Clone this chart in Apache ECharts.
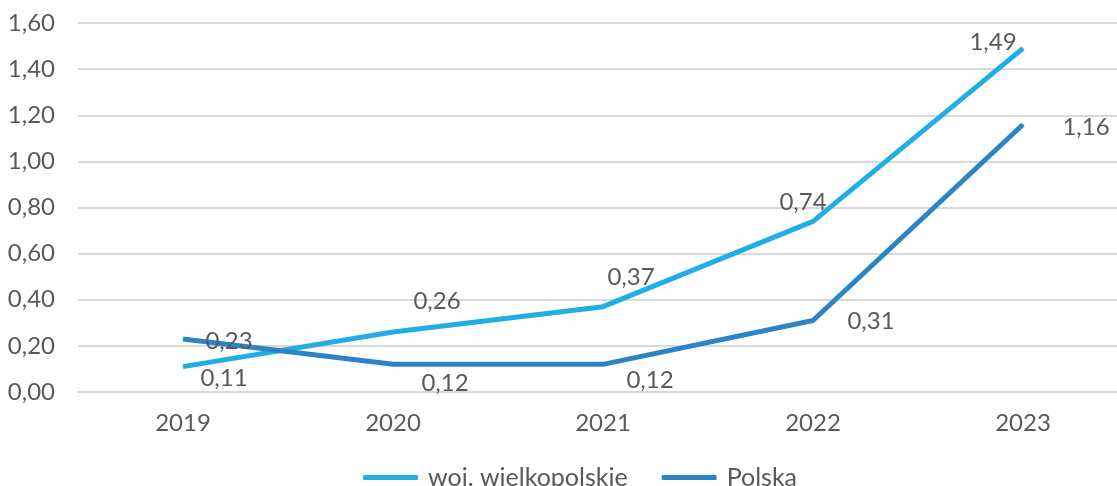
<!DOCTYPE html>
<html>
<head>
<meta charset="utf-8">
<script src="https://cdn.jsdelivr.net/npm/echarts@6/dist/echarts.min.js"></script>
<style>
  html, body { margin: 0; padding: 0; background: #fff; }
  #main { width: 1117px; height: 486px; }
</style>
</head>
<body>
<div id="main"></div>
<script>
// dane
var years = ['2019', '2020', '2021', '2022', '2023'];
var wojValues = [0.11, 0.26, 0.37, 0.74, 1.49];
var polskaValues = [0.23, 0.12, 0.12, 0.31, 1.16];
var seriesNames = ['woj. wielkopolskie', 'Polska'];

// przesunięcia etykiet (px)
var wojOffsets = [[41, 12], [44, -31], [28, -29], [-10, -19], [-30, -6]];
var polskaOffsets = [[46, 2], [52, 19], [47, 16], [58, 1], [63, 3]];

var FONT = 'Lato';
var TXT = '#595959';

function fmt(v) {
	return v.toFixed(2).replace('.', ',');
}

function build(values, offsets) {
	return values.map(function(v, i) {
		return { value: v, label: { offset: offsets[i] } };
	});
}

var chart = echarts.init(document.getElementById('main'));
chart.setOption({
	animation: false,
	textStyle: { fontFamily: FONT },
	grid: {
		left: 78,
		top: 23,
		width: 1050,
		height: 369,
		outerBoundsMode: 'none'
	},
	legend: {
		left: 358,
		top: 460,
		icon: 'roundRect',
		itemWidth: 55,
		itemHeight: 5,
		itemGap: 34,
		textStyle: { fontSize: 25, color: TXT, fontFamily: FONT, padding: [0, 0, 0, 5] },
		data: seriesNames
	},
	xAxis: {
		type: 'category',
		data: years,
		axisLine: { lineStyle: { color: '#d9d9d9', width: 2 } },
		axisTick: { show: false },
		axisLabel: { fontSize: 24, color: TXT, margin: 19 }
	},
	yAxis: {
		type: 'value',
		min: 0,
		max: 1.6,
		interval: 0.2,
		axisLine: { show: false },
		axisTick: { show: false },
		splitLine: { lineStyle: { color: '#d9d9d9', width: 2 } },
		axisLabel: { fontSize: 24, color: TXT, margin: 23, formatter: fmt }
	},
	series: [{
		name: seriesNames[0],
		type: 'line',
		data: build(wojValues, wojOffsets),
		symbol: 'circle',
		symbolSize: 1,
		lineStyle: { width: 5, color: '#21aee4' },
		itemStyle: { color: '#21aee4' },
		label: {
			show: true,
			position: 'inside',
			fontSize: 24,
			color: TXT,
			formatter: function(p) { return fmt(p.value); }
		}
	}, {
		name: seriesNames[1],
		type: 'line',
		data: build(polskaValues, polskaOffsets),
		symbol: 'circle',
		symbolSize: 1,
		lineStyle: { width: 5, color: '#2a84c6' },
		itemStyle: { color: '#2a84c6' },
		label: {
			show: true,
			position: 'inside',
			fontSize: 24,
			color: TXT,
			formatter: function(p) { return fmt(p.value); }
		}
	}]
});
</script>
</body>
</html>
